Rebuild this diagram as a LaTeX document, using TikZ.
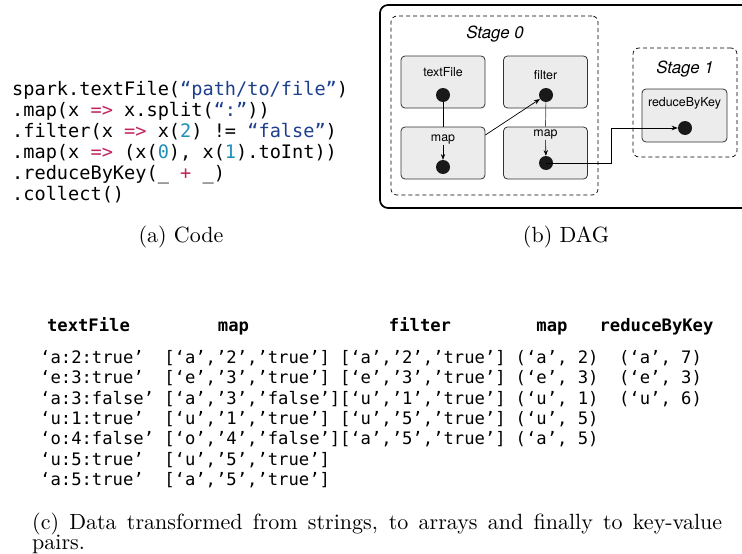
\documentclass[tikz,border=0pt]{standalone}
\usepackage{fontspec}
\setsansfont{TeX Gyre Heros}
\setmonofont{DejaVu Sans Mono}
\newfontfamily\capfont{lmroman10-regular.otf}
\usepackage{tikz}
\usetikzlibrary{positioning,arrows.meta}
\definecolor{kwd}{HTML}{C0245E}
\definecolor{strg}{HTML}{1D3F8C}
\definecolor{numb}{HTML}{1F8FB8}
\definecolor{opgray}{HTML}{ECECEC}

\begin{document}
\begin{tikzpicture}[x=1pt,y=-1pt,>=Stealth,
  opbox/.style={draw=black!80,fill=opgray,rounded corners=4pt,line width=0.8pt,minimum width=84pt,minimum height=52pt},
  stagebox/.style={draw,dash pattern=on 4pt off 3pt,rounded corners=6pt,line width=0.7pt},
  dot/.style={circle,fill=black!90,inner sep=0pt,minimum size=14pt},
  oplbl/.style={font=\sffamily\fontsize{12.4}{13}\selectfont,inner sep=0pt},
  stlbl/.style={font=\sffamily\itshape\fontsize{16.8}{18}\selectfont,inner sep=0pt},
  code/.style={font=\ttfamily\fontsize{18.6}{21}\selectfont,anchor=base west,inner sep=0pt},
  cell/.style={font=\ttfamily\fontsize{17.2}{20}\selectfont,anchor=base west,inner sep=0pt},
  head/.style={font=\ttfamily\bfseries\fontsize{17.2}{20}\selectfont,anchor=base,inner sep=0pt},
  subcap/.style={font=\capfont\fontsize{22}{20}\selectfont,inner sep=0pt}]
  \clip (0,0) rectangle (742,554);

  % (a) code
  \node[code] (cl1) at (12,95){spark.textFile({\color{strg}“path/to/file”})};
  \node[code] (cl2) at (12,116){.map(x {\color{kwd}=>} x.split({\color{strg}“:”}))};
  \node[code] (cl3) at (12,137){.filter(x {\color{kwd}=>} x({\color{numb}2}) != {\color{strg}“false”})};
  \node[code] (cl4) at (12,158){.map(x {\color{kwd}=>} (x({\color{numb}0}), x({\color{numb}1}).toInt))};
  \node[code] (cl5) at (12,179){.reduceByKey(\_ {\color{kwd}+} \_)};
  \node[code] (cl6) at (12,200){.collect()};
  \node[subcap] (capa) at (181,237){(a) Code};

  % (b) DAG
  \node[draw,line width=1.7pt,rounded corners=8pt,minimum width=400pt,minimum height=203pt] (dag) at (580,106.5){};
  \node[stagebox,minimum width=207pt,minimum height=179pt] (st0) at (494.5,105.5){};
  \node[stagebox,minimum width=104pt,minimum height=109pt] (st1) at (685,102.5){};
  \node[stlbl] (st0l) at (495,34){Stage 0};
  \node[stlbl] (st1l) at (685,69){Stage 1};

  \node[opbox] (tf) at (443,82){};
  \node[opbox] (fl) at (545.5,82){};
  \node[opbox] (mp1) at (443,153){};
  \node[opbox] (mp2) at (545.5,153){};
  \node[opbox,minimum width=85pt,minimum height=53pt] (rk) at (684.5,115.5){};

  \node[oplbl] (tfl) at (443,72){textFile};
  \node[oplbl] (fll) at (545.5,75){filter};
  \node[oplbl] (mp1l) at (443,140){map};
  \node[oplbl] (mp2l) at (545.5,135){map};
  \node[oplbl] (rkl) at (684.5,103){reduceByKey};

  \node[dot] (tfd) at (443,95){};
  \node[dot] (fld) at (546,95){};
  \node[dot] (mp1d) at (443,167){};
  \node[dot] (mp2d) at (546,163){};
  \node[dot] (rkd) at (685,128){};
  \coordinate (bend) at (611,128);

  \draw[line width=0.7pt] (tfd) -- (mp1.north);
  \draw[line width=0.7pt,black!70] (fld) -- (mp2.north);
  \draw[->,line width=0.7pt] (mp1.23) -- (fld);
  \draw[->,line width=0.7pt] (mp2d.center) -| (bend) -- (rkd);
  \draw[->,line width=0.6pt] (mp1l) -- (mp1d);
  \draw[->,line width=0.6pt] (mp2l) -- (mp2d);
  \node[subcap] (capb) at (566,237){(b) DAG};

  % (c) data
  \node[head] (h1) at (88.5,331){textFile};
  \node[head] (h2) at (233.5,331){map};
  \node[head] (h3) at (420,331){filter};
  \node[head] (h4) at (552,331){map};
  \node[head] (h5) at (656.5,331){reduceByKey};

  \foreach \txt [count=\r] in {‘a:2:true’,‘e:3:true’,‘a:3:false’,‘u:1:true’,‘o:4:false’,‘u:5:true’,‘a:5:true’}
    \node[cell] (tx\r) at (40,343.2+20.3*\r){\txt};
  \foreach \txt [count=\r] in {{[‘a’,’2’,’true’]},{[‘e’,’3’,’true’]},{[‘a’,’3’,’false’]},{[‘u’,’1’,’true’]},{[‘o’,’4’,’false’]},{[‘u’,’5’,’true’]},{[‘a’,’5’,’true’]}}
    \node[cell] (ar\r) at (164.1,343.2+20.3*\r){\txt};
  \foreach \txt [count=\r] in {{[‘a’,’2’,’true’]},{[‘e’,’3’,’true’]},{[‘u’,’1’,’true’]},{[‘u’,’5’,’true’]},{[‘a’,’5’,’true’]}}
    \node[cell] (fi\r) at (339.8,343.2+20.3*\r){\txt};
  \foreach \txt [count=\r] in {{(‘a’, 2)},{(‘e’, 3)},{(‘u’, 1)},{(‘u’, 5)},{(‘a’, 5)}}
    \node[cell] (kv\r) at (515.5,343.2+20.3*\r){\txt};
  \foreach \txt [count=\r] in {{(‘a’, 7)},{(‘e’, 3)},{(‘u’, 6)}}
    \node[cell] (rb\r) at (618.9,343.2+20.3*\r){\txt};

  \node[subcap,anchor=base west,text width=690pt,align=justify] (capc) at (32,529)
    {(c) Data transformed from strings, to arrays and finally to key-value\linebreak pairs.};
\end{tikzpicture}
\end{document}
